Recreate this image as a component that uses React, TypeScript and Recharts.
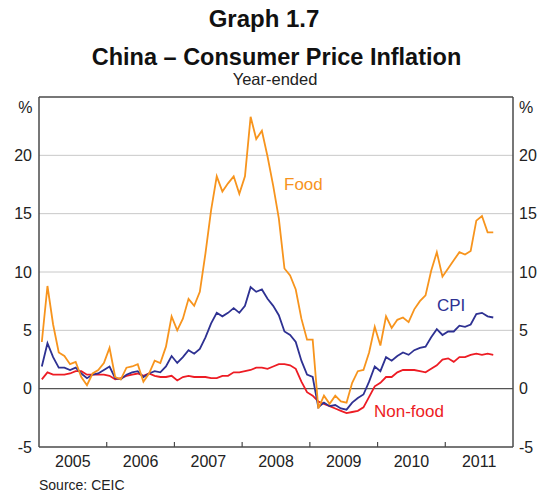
import React from "react"
import { LineChart, Line, XAxis, YAxis, ReferenceLine } from "recharts"

// monthly, Jan 2005 to Sep 2011, year-ended % change
const startYear = 2005
const years = ["2005", "2006", "2007", "2008", "2009", "2010", "2011"]

const cpi = [
  1.9, 3.9, 2.7, 1.8, 1.8, 1.6, 1.8, 1.3, 0.9, 1.2, 1.3, 1.6,
  1.9, 0.9, 0.8, 1.2, 1.4, 1.5, 1.0, 1.3, 1.5, 1.4, 1.9, 2.8,
  2.2, 2.7, 3.3, 3.0, 3.4, 4.4, 5.6, 6.5, 6.2, 6.5, 6.9, 6.5,
  7.1, 8.7, 8.3, 8.5, 7.7, 7.1, 6.3, 4.9, 4.6, 4.0, 2.4, 1.2,
  1.0, -1.6, -1.2, -1.5, -1.4, -1.7, -1.8, -1.2, -0.8, -0.5, 0.6, 1.9,
  1.5, 2.7, 2.4, 2.8, 3.1, 2.9, 3.3, 3.5, 3.6, 4.4, 5.1, 4.6,
  4.9, 4.9, 5.4, 5.3, 5.5, 6.4, 6.5, 6.2, 6.1,
]

const food = [
  4.0, 8.8, 5.5, 3.1, 2.8, 2.1, 2.3, 1.0, 0.3, 1.3, 1.6, 2.2,
  3.5, 1.0, 0.8, 1.8, 1.9, 2.1, 0.6, 1.3, 2.4, 2.2, 3.6, 6.2,
  5.0, 6.0, 7.7, 7.1, 8.3, 11.6, 15.3, 18.2, 16.9, 17.6, 18.2, 16.7,
  18.2, 23.3, 21.4, 22.1, 19.9, 17.4, 14.6, 10.3, 9.7, 8.5, 6.0, 4.2,
  4.2, -1.7, -0.6, -1.3, -0.6, -1.1, -1.2, 0.5, 1.5, 1.6, 3.1, 5.3,
  3.7, 6.2, 5.2, 5.9, 6.1, 5.7, 6.8, 7.5, 8.0, 10.1, 11.7, 9.6,
  10.3, 11.0, 11.7, 11.5, 11.8, 14.4, 14.8, 13.4, 13.4,
]

const nonFood = [
  0.8, 1.4, 1.2, 1.2, 1.2, 1.3, 1.5, 1.5, 1.2, 1.2, 1.2, 1.2,
  1.1, 0.8, 0.9, 1.1, 1.2, 1.3, 1.1, 1.3, 1.1, 1.0, 1.0, 1.1,
  0.7, 1.0, 1.1, 1.0, 1.0, 1.0, 0.9, 0.9, 1.1, 1.1, 1.4, 1.4,
  1.5, 1.6, 1.8, 1.8, 1.7, 1.9, 2.1, 2.1, 2.0, 1.7, 0.6, -0.3,
  -0.6, -1.1, -1.3, -1.5, -1.7, -1.9, -2.1, -2.0, -1.9, -1.6, -0.7, 0.2,
  0.5, 1.0, 1.0, 1.4, 1.6, 1.6, 1.6, 1.5, 1.4, 1.7, 2.0, 2.5,
  2.6, 2.3, 2.7, 2.7, 2.9, 3.0, 2.9, 3.0, 2.9,
]

const yTicks = [-5, 0, 5, 10, 15, 20]
const gridValues = [5, 10, 15, 20]

const data = cpi.map((v, i) => ({
  t: i + 0.5, // months since Jan 2005, plotted mid-month
  cpi: v,
  food: food[i],
  nonFood: nonFood[i],
}))

// every half year: year boundaries get a tick mark, mid-years get the label
const xTicks = Array.from({ length: years.length * 2 - 1 }, (_, i) => (i + 1) * 6)

const FONT = "'Liberation Sans', Arial, Helvetica, sans-serif"
const AXIS = "#4a4a4a"
const ORANGE = "#f7941d"
const NAVY = "#2e3192"
const RED = "#ed1c24"

function YearTick(props: any) {
  const { x, y, payload } = props
  const v = payload.value
  if (v % 12 === 0) {
    return <line x1={x} x2={x} y1={y} y2={y - 5} stroke={AXIS} strokeWidth={1.2} />
  }
  return (
    <text x={x} y={y + 20} textAnchor="middle" fontSize={16} fill="#222" fontFamily={FONT}>
      {years[Math.floor(v / 12)] ?? String(startYear + Math.floor(v / 12))}
    </text>
  )
}

export default function App() {
  const tickStyle = { fontSize: 16, fill: "#222", fontFamily: FONT }
  return (
    <div style={{ position: "absolute", left: 0, top: 0, width: 537, height: 492, background: "#fff" }}>
      <LineChart width={537} height={492} data={data} margin={{ top: 97, right: 0, bottom: 15, left: 0 }}>
        <XAxis
          dataKey="t"
          type="number"
          domain={[0, 84]}
          ticks={xTicks}
          tick={<YearTick />}
          tickSize={0}
          tickMargin={0}
          tickLine={false}
          height={30}
          interval={0}
          axisLine={{ stroke: AXIS, strokeWidth: 1.5 }}
          allowDataOverflow
        />
        <YAxis
          yAxisId="left"
          domain={[-5, 25]}
          ticks={yTicks}
          width={39}
          tickLine={false}
          tickSize={5}
          tickMargin={2}
          axisLine={{ stroke: AXIS, strokeWidth: 1.5 }}
          tick={tickStyle}
          interval={0}
          allowDataOverflow
        />
        <YAxis
          yAxisId="right"
          orientation="right"
          domain={[-5, 25]}
          ticks={yTicks}
          width={24}
          tickLine={false}
          tickSize={4}
          tickMargin={2}
          axisLine={{ stroke: AXIS, strokeWidth: 1.5 }}
          tick={tickStyle}
          interval={0}
          allowDataOverflow
        />
        {gridValues.map((g) => (
          <ReferenceLine key={g} yAxisId="left" y={g} stroke="#c8c8c8" strokeWidth={1} />
        ))}
        <ReferenceLine yAxisId="left" y={0} stroke="#555" strokeWidth={1.3} />
        <ReferenceLine yAxisId="left" y={25} stroke={AXIS} strokeWidth={1.5} />
        <Line yAxisId="left" type="linear" dataKey="nonFood" stroke={RED} strokeWidth={1.8} dot={false} isAnimationActive={false} />
        <Line yAxisId="left" type="linear" dataKey="cpi" stroke={NAVY} strokeWidth={1.8} dot={false} isAnimationActive={false} />
        <Line yAxisId="left" type="linear" dataKey="food" stroke={ORANGE} strokeWidth={1.8} dot={false} isAnimationActive={false} />
      </LineChart>
      <svg
        width={537}
        height={492}
        style={{ position: "absolute", left: 0, top: 0, pointerEvents: "none" }}
        fontFamily={FONT}
      >
        <text x={264} y={27} textAnchor="middle" fontSize={24} fontWeight="bold" fill="#111">
          Graph 1.7
        </text>
        <text x={276.5} y={65} textAnchor="middle" fontSize={23.5} fontWeight="bold" fill="#111">
          China – Consumer Price Inflation
        </text>
        <text x={275} y={85} textAnchor="middle" fontSize={16.5} fill="#222">
          Year-ended
        </text>
        <text x={32.5} y={112.5} textAnchor="end" fontSize={16} fill="#222">%</text>
        <text x={519} y={112.5} fontSize={16} fill="#222">%</text>
        <text x={284} y={190} fontSize={17} fill={ORANGE}>Food</text>
        <text x={437} y={310.5} fontSize={17} fill={NAVY}>CPI</text>
        <text x={374} y={417} fontSize={17} fill={RED}>Non-food</text>
        <text x={39} y={490} fontSize={14} fill="#222">Source: CEIC</text>
      </svg>
    </div>
  )
}
